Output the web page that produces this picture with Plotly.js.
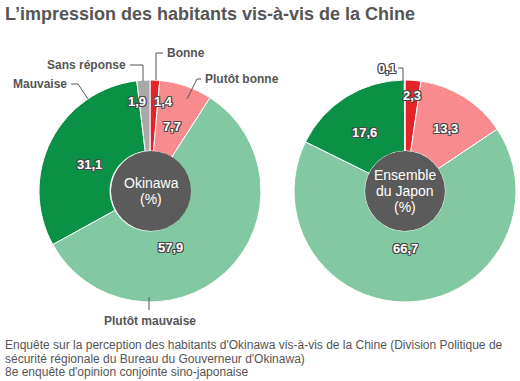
<!DOCTYPE html>
<html><head><meta charset="utf-8">
<script src="https://cdn.plot.ly/plotly-3.0.1.min.js"></script>
<style>html,body{margin:0;padding:0;background:#fff}#chart{width:520px;height:381px}</style>
</head><body><div id="chart"></div>
<script>
const categories = ['Bonne', 'Plutôt bonne', 'Plutôt mauvaise', 'Mauvaise', 'Sans réponse'];
const okinawaValues = [1.4, 7.7, 57.9, 31.1, 1.9];
const japanValues = [2.3, 13.3, 66.7, 17.6, 0.1];
const colors = ['#e5232a', '#f78b8d', '#82c9a3', '#0b9146', '#a9a9a9'];
const chartTitle = 'L’impression des habitants vis-à-vis de la Chine';
const footnote = ["Enquête sur la perception des habitants d'Okinawa vis-à-vis de la Chine (Division Politique de",
  "sécurité régionale du Bureau du Gouverneur d'Okinawa)",
  "8e enquête d'opinion conjointe sino-japonaise"];

const W = 520, H = 381;
const px = x => x / W, py = y => 1 - y / H;
const fmt = v => v.toFixed(1).replace('.', ',');
const grey = '#555';
const outline = '1px 1px 0 #4a4a4a, -1px -1px 0 #4a4a4a, 1px -1px 0 #4a4a4a, -1px 1px 0 #4a4a4a, 0 1px 0 #4a4a4a, 0 -1px 0 #4a4a4a, 1px 0 0 #4a4a4a, -1px 0 0 #4a4a4a';

function pieTrace(vals, x0, x1) {
  return {
    type: 'pie', values: vals, labels: categories, sort: false, direction: 'clockwise', rotation: 0,
    hole: 0.36, marker: {colors: colors, line: {color: '#fff', width: 1}},
    textinfo: 'none', hoverinfo: 'label+value', showlegend: false,
    domain: {x: [px(x0), px(x1)], y: [py(302), py(80)]}
  };
}

const data = [pieTrace(okinawaValues, 39, 261), pieTrace(japanValues, 294, 516)];

const ann = [];
function lab(text, x, y, opts) {
  ann.push(Object.assign({text: text, x: px(x), y: py(y), xref: 'paper', yref: 'paper', showarrow: false,
    xanchor: 'center', yanchor: 'middle'}, opts || {}));
}
const valFont = {family: 'Liberation Sans, Arial, sans-serif', size: 13, color: '#fff', weight: 'bold', shadow: outline};
const okPos = [[163, 101], [172, 126], [170, 247], [89, 164], [137, 101]];
okinawaValues.forEach((v, i) => lab(fmt(v), okPos[i][0], okPos[i][1], {font: valFont}));
const jpPos = [[412, 95], [445, 128], [405, 249], [364, 132], [387, 68]];
japanValues.forEach((v, i) => lab(fmt(v), jpPos[i][0], jpPos[i][1], {font: valFont}));

const catFont = {family: 'Liberation Sans, Arial, sans-serif', size: 12, color: grey, weight: 'bold'};
lab(categories[0], 165, 53, {font: catFont, xanchor: 'left'});
lab(categories[1], 203, 79, {font: catFont, xanchor: 'left'});
lab(categories[2], 150, 321, {font: catFont});
lab(categories[3], 69, 84, {font: catFont, xanchor: 'right'});
lab(categories[4], 128, 65, {font: catFont, xanchor: 'right'});

const holeFont = {family: 'Liberation Sans, Arial, sans-serif', size: 14, color: '#fff'};
lab('Okinawa', 151, 183, {font: holeFont});
lab('(%)', 151, 199, {font: holeFont});
lab('Ensemble', 405, 175, {font: holeFont});
lab('du Japon', 405, 191, {font: holeFont});
lab('(%)', 405, 207, {font: holeFont});

lab(chartTitle, 3, 14, {xanchor: 'left', font: {family: 'Liberation Sans, Arial, sans-serif', size: 18, color: grey, weight: 'bold'}});
footnote.forEach((t, i) => lab(t, 3, 345 + i * 13.5, {xanchor: 'left', font: {family: 'Liberation Sans, Arial, sans-serif', size: 12, color: grey}}));

function path(pts) {
  return pts.map((p, i) => (i ? 'L ' : 'M ') + px(p[0]) + ' ' + py(p[1])).join(' ');
}
const leaders = [
  [[163, 53], [156, 53], [156, 80]],
  [[130, 65], [143, 65], [143, 81]],
  [[71, 84], [78, 84], [88, 99]],
  [[201, 79], [197, 79], [187, 99]],
  [[149, 297], [149, 310]],
  [[398, 68], [403, 68], [403, 84]]
];
const shapes = leaders.map(l => ({type: 'path', xref: 'paper', yref: 'paper', path: path(l), line: {color: grey, width: 1}}));
shapes.push({type: 'circle', xref: 'paper', yref: 'paper', x0: px(111), x1: px(191), y0: py(231), y1: py(151), fillcolor: '#5b5b5b', line: {width: 0}});
shapes.push({type: 'circle', xref: 'paper', yref: 'paper', x0: px(365), x1: px(445), y0: py(231), y1: py(151), fillcolor: '#5b5b5b', line: {width: 0}});

Plotly.newPlot('chart', data, {
  width: W, height: H, margin: {l: 0, r: 0, t: 0, b: 0},
  paper_bgcolor: '#fff', plot_bgcolor: '#fff', annotations: ann, shapes: shapes
}, {displayModeBar: false, staticPlot: true});
</script></body></html>
